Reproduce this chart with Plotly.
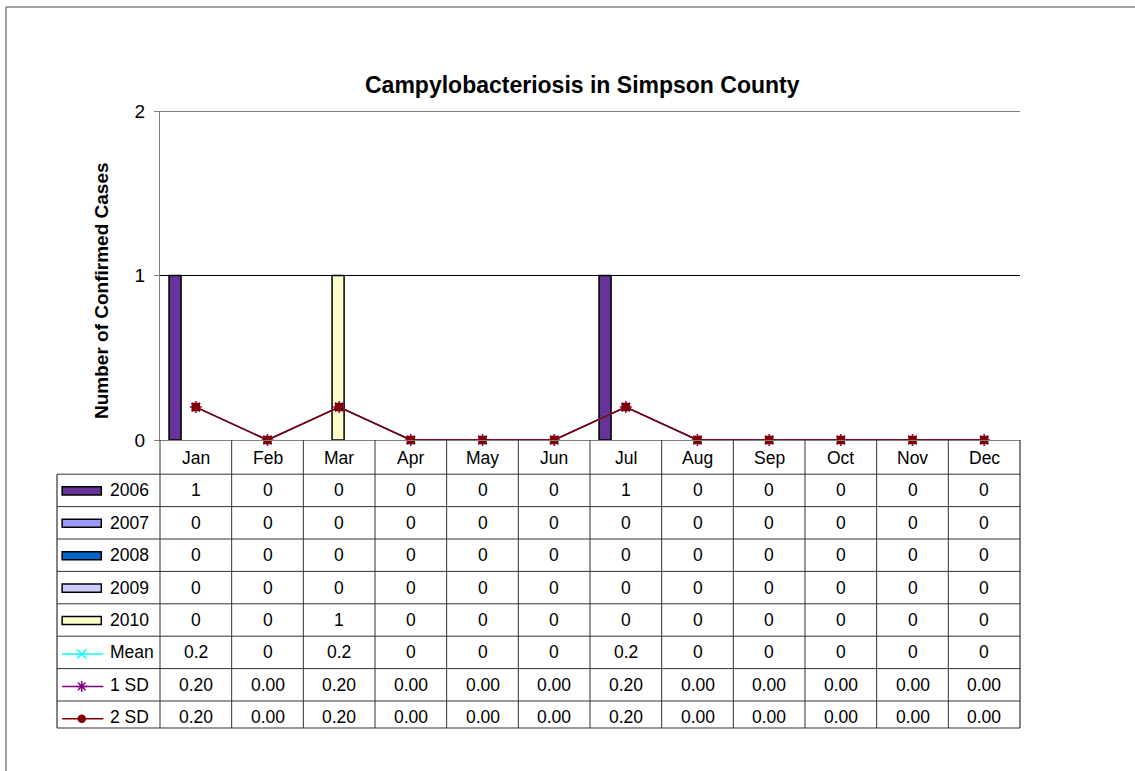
import plotly.graph_objects as go

# ---- data -------------------------------------------------------------
months = ["Jan", "Feb", "Mar", "Apr", "May", "Jun",
          "Jul", "Aug", "Sep", "Oct", "Nov", "Dec"]

years = ["2006", "2007", "2008", "2009", "2010"]
cases_2006 = [1, 0, 0, 0, 0, 0, 1, 0, 0, 0, 0, 0]
cases_2007 = [0, 0, 0, 0, 0, 0, 0, 0, 0, 0, 0, 0]
cases_2008 = [0, 0, 0, 0, 0, 0, 0, 0, 0, 0, 0, 0]
cases_2009 = [0, 0, 0, 0, 0, 0, 0, 0, 0, 0, 0, 0]
cases_2010 = [0, 0, 1, 0, 0, 0, 0, 0, 0, 0, 0, 0]

mean_cases = [0.2, 0, 0.2, 0, 0, 0, 0.2, 0, 0, 0, 0, 0]
sd1_cases = [0.20, 0.00, 0.20, 0.00, 0.00, 0.00, 0.20, 0.00, 0.00, 0.00, 0.00, 0.00]
sd2_cases = [0.20, 0.00, 0.20, 0.00, 0.00, 0.00, 0.20, 0.00, 0.00, 0.00, 0.00, 0.00]

line_names = ["Mean", "1 SD", "2 SD"]
y_ticks = [0, 1, 2]

title_text = "Campylobacteriosis in Simpson County"
y_title = "Number of Confirmed Cases"

# ---- styling ----------------------------------------------------------
W, H = 1135, 771
FONT = "Arial, Liberation Sans, sans-serif"
TXT = 17.5
bar_colors = ["#663399", "#9999FF", "#0066CC", "#CCCCFF", "#FFFFCC"]
line_colors = ["#00FFFF", "#800080", "#800000"]
plot_markers = ["x-thin-open", "asterisk-open", "square"]
plot_marker_sizes = [8, 10, 7]
key_markers = ["x-thin-open", "asterisk-open", "circle"]
key_marker_sizes = [9, 9, 7]
grid_col = "#333333"


def px_x(p):
    return p / W


def px_y(p):
    return 1 - p / H


# table rows: row k centred at 458 + 32.4*k pixels
ROW0, ROWH = 458.0, 32.4


def row_of(p):
    return (p - ROW0) / ROWH


table_top = row_of(440)
table_bottom = row_of(728)

bar_series = [cases_2006, cases_2007, cases_2008, cases_2009, cases_2010]
line_series = [mean_cases, sd1_cases, sd2_cases]

fig = go.Figure()

# overlapping clustered bars (zero-height bars get no outline)
bar_w = 0.168
first_off = -0.374
step = 0.0687
for i, (name, vals, col) in enumerate(zip(years, bar_series, bar_colors)):
    fig.add_trace(go.Bar(
        x=months, y=vals, name=name,
        width=bar_w, offset=first_off + i * step,
        marker=dict(color=col,
                    line=dict(color="black",
                              width=[1.5 if v else 0 for v in vals])),
        showlegend=False, xaxis="x", yaxis="y",
    ))

for name, vals, col, sym, sz in zip(line_names, line_series, line_colors,
                                    plot_markers, plot_marker_sizes):
    fig.add_trace(go.Scatter(
        x=months, y=vals, name=name, mode="lines+markers",
        line=dict(color=col, width=1.5),
        marker=dict(symbol=sym, size=sz, color=col,
                    line=dict(color=col, width=1.5)),
        showlegend=False, xaxis="x", yaxis="y", cliponaxis=False,
    ))

# ---- data table -------------------------------------------------------
row_labels = years + line_names
row_values = bar_series + line_series
row_formats = ["{:d}"] * 5 + ["{:g}", "{:.2f}", "{:.2f}"]

annotations = []
for m in months:
    annotations.append(dict(x=m, y=0, xref="x", yref="y2", text=m,
                            showarrow=False, font=dict(size=TXT),
                            xanchor="center", yanchor="middle"))
for r, (lab, vals, fmt) in enumerate(zip(row_labels, row_values, row_formats), start=1):
    for m, v in zip(months, vals):
        annotations.append(dict(x=m, y=r, xref="x", yref="y2",
                                text=fmt.format(v), showarrow=False,
                                font=dict(size=TXT), xanchor="center",
                                yanchor="middle"))
    annotations.append(dict(x=0.495, y=r, xref="x2", yref="y2", text=lab,
                            showarrow=False, font=dict(size=TXT),
                            xanchor="left", yanchor="middle"))

# legend keys for bar rows
shapes = []
for r, col in enumerate(bar_colors, start=1):
    shapes.append(dict(type="rect", xref="x2", yref="y2",
                       x0=0.05, x1=0.43, y0=r - 0.11, y1=r + 0.14,
                       fillcolor=col, line=dict(color="black", width=1.5)))

# legend keys for line rows
for r, (name, col, sym, sz) in enumerate(
        zip(line_names, line_colors, key_markers, key_marker_sizes), start=6):
    fig.add_trace(go.Scatter(
        x=[0.05, 0.45], y=[r + 0.05, r + 0.05], mode="lines",
        line=dict(color=col, width=1.5), showlegend=False,
        xaxis="x2", yaxis="y2", hoverinfo="skip"))
    fig.add_trace(go.Scatter(
        x=[0.24], y=[r + 0.05], mode="markers",
        marker=dict(symbol=sym, size=sz, color=col,
                    line=dict(color=col, width=1.5)),
        showlegend=False, xaxis="x2", yaxis="y2", hoverinfo="skip"))

# horizontal value gridlines
for t in y_ticks[1:]:
    shapes.append(dict(type="line", xref="x", yref="y",
                       x0=-0.5, x1=len(months) - 0.5, y0=t, y1=t,
                       line=dict(color="black", width=1), layer="below"))

# table grid
left_px, right_px = 57, 1020
xl, xr = px_x(left_px), px_x(right_px)
x_axis_left = px_x(160)
for r in range(1, 9):
    shapes.append(dict(type="line", xref="paper", yref="y2",
                       x0=xl, x1=xr, y0=r - 0.5, y1=r - 0.5,
                       line=dict(color=grid_col, width=1)))
shapes.append(dict(type="line", xref="paper", yref="y2",
                   x0=xl, x1=xr, y0=table_bottom, y1=table_bottom,
                   line=dict(color=grid_col, width=1.2)))
shapes.append(dict(type="line", xref="paper", yref="y2",
                   x0=xl, x1=xl, y0=0.5, y1=table_bottom,
                   line=dict(color=grid_col, width=1.2)))
shapes.append(dict(type="line", xref="paper", yref="y2",
                   x0=x_axis_left, x1=x_axis_left, y0=table_top, y1=table_bottom,
                   line=dict(color=grid_col, width=1)))
shapes.append(dict(type="line", xref="paper", yref="y2",
                   x0=xr, x1=xr, y0=table_top, y1=table_bottom,
                   line=dict(color=grid_col, width=1.2)))
for i in range(1, len(months)):
    shapes.append(dict(type="line", xref="x", yref="y2",
                       x0=i - 0.5, x1=i - 0.5, y0=table_top, y1=table_bottom,
                       line=dict(color=grid_col, width=1)))

# chart frame (top and left edges)
shapes.append(dict(type="line", xref="paper", yref="paper",
                   x0=px_x(6), x1=1.0, y0=px_y(7), y1=px_y(7),
                   line=dict(color="#808080", width=1.5)))
shapes.append(dict(type="line", xref="paper", yref="paper",
                   x0=px_x(6), x1=px_x(6), y0=px_y(7), y1=0.0,
                   line=dict(color="#808080", width=1.5)))

# titles
annotations.append(dict(x=px_x(582), y=px_y(85), xref="paper", yref="paper",
                        text="<b>" + title_text + "</b>", showarrow=False,
                        font=dict(size=23), xanchor="center", yanchor="middle"))
annotations.append(dict(x=px_x(101), y=px_y(291), xref="paper", yref="paper",
                        text="<b>" + y_title + "</b>", showarrow=False,
                        textangle=-90, font=dict(size=19),
                        xanchor="center", yanchor="middle"))

fig.update_layout(
    width=W, height=H, autosize=False,
    margin=dict(l=0, r=0, t=0, b=0, pad=0, autoexpand=False),
    paper_bgcolor="white", plot_bgcolor="white",
    font=dict(family=FONT, color="black"),
    barmode="overlay",
    xaxis=dict(domain=[px_x(160), px_x(1020)], type="category",
               categoryarray=months, range=[-0.5, 11.5], automargin=False,
               showline=True, linecolor="#808080", linewidth=1,
               showgrid=False, zeroline=False, ticks="",
               showticklabels=False, anchor="y"),
    yaxis=dict(domain=[px_y(440), px_y(111)], range=[0, 2], automargin=False,
               tickvals=y_ticks, showgrid=False,
               showline=True, linecolor="#808080", linewidth=1,
               zeroline=False, ticks="outside", ticklen=5, tickcolor="#808080",
               tickfont=dict(size=19), ticklabelstandoff=5, anchor="x"),
    xaxis2=dict(domain=[px_x(left_px), px_x(160)], range=[0, 1],
                automargin=False, visible=False, anchor="y2"),
    yaxis2=dict(domain=[px_y(732), px_y(440)], automargin=False,
                range=[row_of(732), table_top], visible=False, anchor="x"),
    shapes=shapes,
    annotations=annotations,
)

fig.write_html("out.html")
